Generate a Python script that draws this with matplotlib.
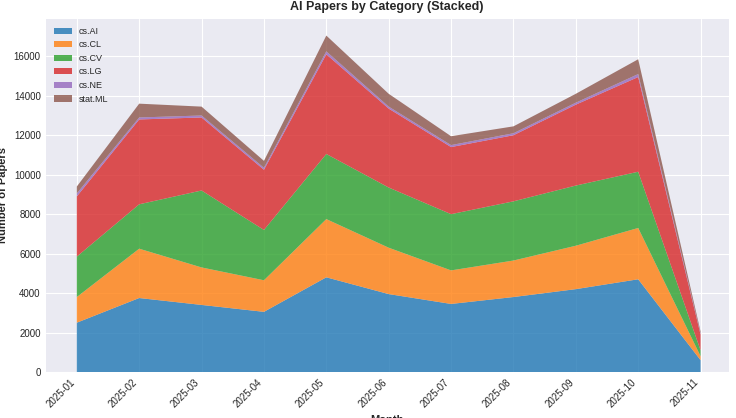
import matplotlib
matplotlib.use("Agg")
import matplotlib.pyplot as plt
import numpy as np

plt.style.use("seaborn-v0_8-darkgrid")
months = ["2025-01","2025-02","2025-03","2025-04","2025-05","2025-06","2025-07","2025-08","2025-09","2025-10","2025-11"]
cs_AI = [2500,3750,3400,3050,4800,3950,3450,3800,4200,4700,600]
cs_CL = [1300,2500,1900,1600,2950,2350,1700,1850,2200,2600,200]
cs_CV = [2050,2250,3900,2550,3300,3050,2850,3000,3050,2850,300]
cs_LG = [3050,4300,3700,3050,5050,4000,3400,3350,4100,4800,800]
cs_NE = [150,100,100,100,150,100,100,100,100,150,50]
stat_ML = [350,700,450,350,800,650,450,350,450,750,100]
labels = ["cs.AI","cs.CL","cs.CV","cs.LG","cs.NE","stat.ML"]

fig, ax = plt.subplots(figsize=(7.36,4.18), dpi=100)
x = np.arange(len(months))
ax.stackplot(x, cs_AI, cs_CL, cs_CV, cs_LG, cs_NE, stat_ML, labels=labels, alpha=0.8,
             colors=["#1f77b4","#ff7f0e","#2ca02c","#d62728","#9467bd","#8c564b"])
ax.set_xticks(x)
ax.set_xticklabels(months, rotation=45, ha="right", fontsize=7)
ax.tick_params(axis="y", labelsize=7)
ax.set_xlim(-0.5, 10.45)
ax.set_ylim(0, 17900)
ax.set_xlabel("Month", fontsize=8, fontweight="bold")
ax.set_ylabel("Number of Papers", fontsize=8, fontweight="bold")
ax.set_title("AI Papers by Category (Stacked)", fontsize=9, fontweight="bold")
ax.legend(loc="upper left", fontsize=6.5, frameon=False)
fig.subplots_adjust(left=0.062, right=0.99, top=0.955, bottom=0.11)
fig.savefig("out.png")
